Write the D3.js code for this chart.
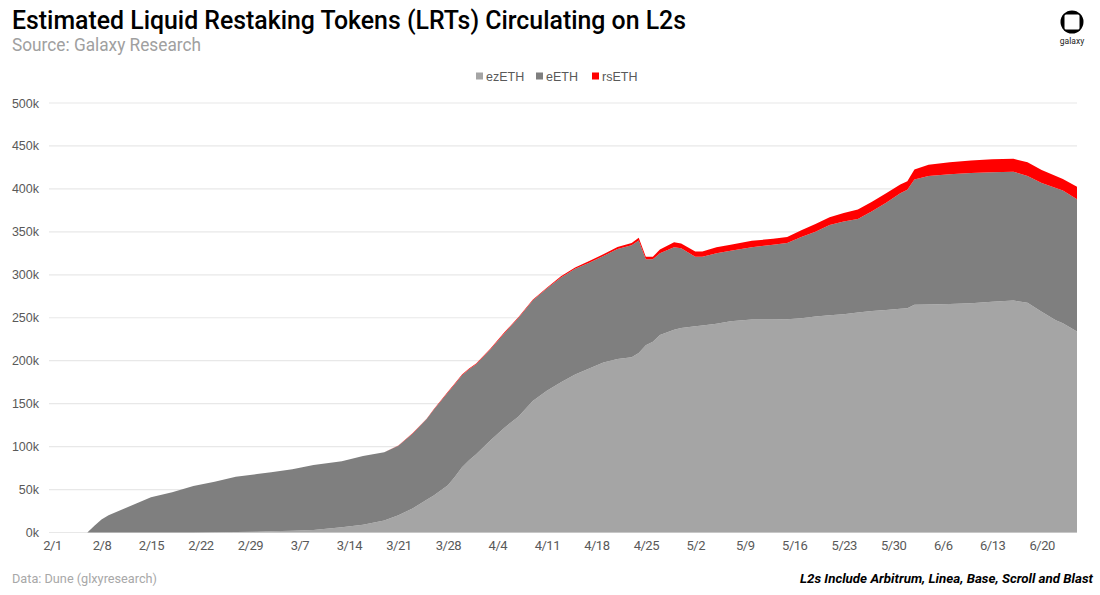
<!DOCTYPE html>
<html><head><meta charset="utf-8">
<script src="https://cdn.jsdelivr.net/npm/d3@7"></script>
<style>body{margin:0;background:#fff}</style>
</head><body>
<svg id="chart" width="1100" height="595"></svg>
<script>
// ---- data ----
const dates = ["2024-02-01","2024-02-06","2024-02-07","2024-02-08","2024-02-09","2024-02-11","2024-02-13","2024-02-15","2024-02-18","2024-02-21","2024-02-24","2024-02-27","2024-03-01","2024-03-03","2024-03-06","2024-03-09","2024-03-13","2024-03-16","2024-03-19","2024-03-21","2024-03-23","2024-03-25","2024-03-26","2024-03-28","2024-03-29","2024-03-30","2024-03-31","2024-04-01","2024-04-03","2024-04-05","2024-04-07","2024-04-09","2024-04-11","2024-04-13","2024-04-15","2024-04-17","2024-04-19","2024-04-21","2024-04-23","2024-04-24","2024-04-25","2024-04-26","2024-04-27","2024-04-29","2024-04-30","2024-05-02","2024-05-03","2024-05-05","2024-05-07","2024-05-10","2024-05-13","2024-05-15","2024-05-17","2024-05-19","2024-05-21","2024-05-23","2024-05-25","2024-05-27","2024-05-29","2024-05-31","2024-06-01","2024-06-02","2024-06-04","2024-06-07","2024-06-10","2024-06-13","2024-06-16","2024-06-18","2024-06-20","2024-06-22","2024-06-23","2024-06-25"];
const ezETH = [0,0,0,0,0,0,0,0,0,0,300,500,1000,1500,2000,3000,6000,9000,14000,20000,28000,38000,43000,55000,65000,76000,84000,91000,107000,122000,135000,153000,165000,175000,184000,191000,198000,202000,204000,209000,218000,222000,230000,236000,238000,240000,241000,243000,246000,248000,248000,248200,249500,251500,253000,254000,256000,258000,259000,260500,261000,265000,265500,266000,267000,268500,270000,267500,257000,247000,243500,234000];
const eETH = [0,0,8000,15000,20000,27000,34000,41000,47000,54000,58700,64500,67000,68500,71500,75500,77000,80000,79500,81000,87000,94000,100000,108000,108000,107000,106000,105000,106000,110000,115000,117000,119000,122000,123000,123000,124000,128000,130500,131000,100000,96000,95000,96000,93000,81000,80000,82000,82000,84000,87000,88800,94500,98500,105000,108000,109000,116000,125000,134500,138000,146000,149500,151000,151500,151000,150000,147500,150000,154000,154500,154000];
const rsETH = [0,0,0,0,0,0,0,0,0,0,0,0,0,0,0,0,0,0,0,300,500,500,500,800,800,800,800,800,1000,1000,1000,1000,1000,1200,1500,2000,2000,2500,2500,3000,3000,3000,4500,6000,5500,6000,6000,7000,7000,7500,7000,7000,8000,9000,9000,10000,11000,11000,11000,10000,10000,11500,13000,14000,14500,15000,15000,16000,15000,14000,13500,14500];
const seriesNames = ["ezETH","eETH","rsETH"];
const seriesColors = ["#a5a5a5","#7f7f7f","#ff0000"];
const xTickDates = ["2024-02-01","2024-02-08","2024-02-15","2024-02-22","2024-02-29","2024-03-07","2024-03-14","2024-03-21","2024-03-28","2024-04-04","2024-04-11","2024-04-18","2024-04-25","2024-05-02","2024-05-09","2024-05-16","2024-05-23","2024-05-30","2024-06-06","2024-06-13","2024-06-20"];
const xTickLabels = ["2/1","2/8","2/15","2/22","2/29","3/7","3/14","3/21","3/28","4/4","4/11","4/18","4/25","5/2","5/9","5/16","5/23","5/30","6/6","6/13","6/20"];
const yTicks = [0,50000,100000,150000,200000,250000,300000,350000,400000,450000,500000];
const yTickLabels = ["0k","50k","100k","150k","200k","250k","300k","350k","400k","450k","500k"];

// ---- drawing ----
const svg = d3.select("#chart");
const parse = d3.utcParse("%Y-%m-%d");
const rows = dates.map((d,i)=>({date:parse(d), ezETH:ezETH[i], eETH:eETH[i], rsETH:rsETH[i]}));

const x = d3.scaleUtc().domain([parse("2024-02-01"), parse("2024-06-25")]).range([52,1077]);
const y = d3.scaleLinear().domain([0,500000]).range([532.5,103]);

// gridlines
svg.append("g").selectAll("line").data(yTicks).join("line")
  .attr("x1",49).attr("x2",1077)
  .attr("y1",d=>y(d)).attr("y2",d=>y(d))
  .attr("stroke","#e8e8e8").attr("stroke-width",1.2);

// stacked areas
const stacked = d3.stack().keys(seriesNames)(rows);
const area = d3.area().x(d=>x(d.data.date)).y0(d=>y(d[0])).y1(d=>y(d[1]));
svg.append("g").selectAll("path").data(stacked).join("path")
  .attr("d",area).attr("fill",(d,i)=>seriesColors[i]);

// y axis labels
const yAxis = d3.axisLeft(y).tickValues(yTicks).tickFormat((d,i)=>yTickLabels[i]).tickSize(0).tickPadding(0);
const gy = svg.append("g").attr("transform","translate(39,0)").call(yAxis);
gy.select(".domain").remove();
gy.selectAll("text").attr("fill","#595959").attr("font-family","Liberation Sans, Arial, sans-serif").attr("font-size","12.5px");

// x axis labels
const xAxis = d3.axisBottom(x).tickValues(xTickDates.map(parse)).tickFormat((d,i)=>xTickLabels[i]).tickSize(0).tickPadding(0);
const gx = svg.append("g").attr("transform","translate(0,541)").call(xAxis);
gx.select(".domain").remove();
gx.selectAll("text").attr("fill","#595959").attr("font-family","Roboto, sans-serif").attr("font-size","13px").attr("letter-spacing","-0.5px");

// title & subtitle
svg.append("text").attr("x",12).attr("y",28.5)
  .attr("font-family","Roboto, sans-serif").attr("font-weight",500).attr("font-size","25px")
  .attr("fill","#000").attr("textLength",674).attr("lengthAdjust","spacingAndGlyphs")
  .text("Estimated Liquid Restaking Tokens (LRTs) Circulating on L2s");
svg.append("text").attr("x",12).attr("y",50.5)
  .attr("font-family","Roboto, sans-serif").attr("font-size","18px")
  .attr("fill","#a0a0a0").attr("textLength",189).attr("lengthAdjust","spacingAndGlyphs")
  .text("Source: Galaxy Research");

// legend
const legendX = [476, 536, 592];
const lg = svg.append("g");
seriesNames.forEach((n,i)=>{
  lg.append("rect").attr("x",legendX[i]).attr("y",72.5).attr("width",7).attr("height",7).attr("fill",seriesColors[i]);
  lg.append("text").attr("x",legendX[i]+10).attr("y",80.5).attr("fill","#595959")
    .attr("font-family","Liberation Sans, Arial, sans-serif").attr("font-size","12.5px").text(n);
});

// logo
const logo = svg.append("g");
logo.append("circle").attr("cx",1072).attr("cy",22).attr("r",11.5).attr("fill","#000");
logo.append("rect").attr("x",1064.5).attr("y",14.5).attr("width",15).attr("height",15).attr("rx",1.5).attr("fill","#fff");
logo.append("text").attr("x",1072).attr("y",44).attr("text-anchor","middle")
  .attr("font-family","Roboto, sans-serif").attr("font-size","8.5px").attr("fill","#222").text("galaxy");

// footer
svg.append("text").attr("x",12).attr("y",583)
  .attr("font-family","Roboto, sans-serif").attr("font-size","13px").attr("fill","#a8a8a8")
  .attr("textLength",145).attr("lengthAdjust","spacingAndGlyphs")
  .text("Data: Dune (glxyresearch)");
svg.append("text").attr("x",1093).attr("y",583).attr("text-anchor","end")
  .attr("font-family","Roboto, sans-serif").attr("font-size","13.5px").attr("font-style","italic").attr("font-weight",700)
  .attr("fill","#000").attr("textLength",293).attr("lengthAdjust","spacingAndGlyphs")
  .text("L2s Include Arbitrum, Linea, Base, Scroll and Blast");
</script>
</body></html>
